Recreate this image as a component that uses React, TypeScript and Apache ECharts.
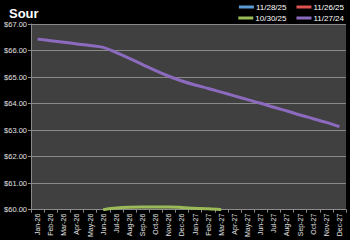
import React, { useEffect, useRef } from "react";
import * as echarts from "echarts";

const months = [
  "Jan-26", "Feb-26", "Mar-26", "Apr-26", "May-26", "Jun-26", "Jul-26", "Aug-26", "Sep-26", "Oct-26", "Nov-26", "Dec-26",
  "Jan-27", "Feb-27", "Mar-27", "Apr-27", "May-27", "Jun-27", "Jul-27", "Aug-27", "Sep-27", "Oct-27", "Nov-27", "Dec-27",
];

const s112825: (number | null)[] = [];
const s112625: (number | null)[] = [];
const s103025: (number | null)[] = [
  null, null, null, null, null, 60.0, 60.06, 60.09, 60.1, 60.1, 60.1, 60.08,
  60.05, 60.03, 60.0, null, null, null, null, null, null, null, null, null,
];
const s112724: number[] = [
  66.43, 66.37, 66.31, 66.25, 66.19, 66.12, 65.92, 65.7, 65.47, 65.24, 65.03, 64.85,
  64.7, 64.57, 64.43, 64.29, 64.15, 64.01, 63.86, 63.72, 63.57, 63.43, 63.29, 63.13,
];

const yTicks = { min: 60, max: 67, interval: 1 };

const FONT = "'Liberation Sans', 'DejaVu Sans', sans-serif";

export default function App() {
  const ref = useRef<HTMLDivElement>(null);
  useEffect(() => {
    if (!ref.current) return;
    const chart = echarts.init(ref.current, undefined, { renderer: "svg" });
    const mk = (name: string, data: (number | null)[], color: string) => ({
      name,
      type: "line",
      data,
      smooth: 0.35,
      symbol: "none",
      clip: true,
      lineStyle: { color, width: 3 },
      itemStyle: { color },
    });
    const legendCommon = {
      right: 6,
      itemWidth: 15,
      itemHeight: 3,
      itemGap: 10,
      icon: "rect",
      textStyle: { color: "#ffffff", fontSize: 8, fontFamily: FONT, padding: [0, 0, 0, -3] },
      padding: 0,
    };
    chart.setOption({
      animation: false,
      backgroundColor: "#000000",
      title: {
        text: "Sour",
        left: 4,
        top: 2,
        textStyle: { color: "#ffffff", fontSize: 13, fontWeight: "bold", fontFamily: FONT },
      },
      legend: [
        { ...legendCommon, top: 3, data: ["11/28/25", "11/26/25"] },
        { ...legendCommon, top: 14, data: ["10/30/25", "11/27/24"] },
      ],
      grid: {
        left: 31,
        right: 4,
        top: 24,
        bottom: 30,
        show: true,
        backgroundColor: "#404040",
        borderWidth: 0,
      },
      xAxis: {
        type: "category",
        data: months,
        boundaryGap: true,
        axisLine: { lineStyle: { color: "#8a8a8a", width: 1 } },
        axisTick: { show: true, length: 3, lineStyle: { color: "#8a8a8a" } },
        axisLabel: {
          rotate: 90,
          interval: 0,
          color: "#e0e0e0",
          fontSize: 7,
          fontFamily: FONT,
          margin: 4,
        },
      },
      yAxis: {
        type: "value",
        min: yTicks.min,
        max: yTicks.max,
        interval: yTicks.interval,
        axisLine: { show: true, lineStyle: { color: "#8a8a8a", width: 1 } },
        axisTick: { show: true, length: 3, lineStyle: { color: "#8a8a8a" } },
        splitLine: { show: true, lineStyle: { color: "#8a8a8a", width: 1 } },
        axisLabel: {
          color: "#e0e0e0",
          fontSize: 7.5,
          fontFamily: FONT,
          margin: 4,
          formatter: (v: number) => "$" + v.toFixed(2),
        },
      },
      series: [
        mk("11/28/25", s112825, "#5b9bd5"),
        mk("11/26/25", s112625, "#d9534f"),
        mk("10/30/25", s103025, "#9bbb59"),
        mk("11/27/24", s112724, "#8c6bbf"),
      ],
    });
    return () => chart.dispose();
  }, []);
  return <div ref={ref} style={{ width: 350, height: 240, position: "fixed", left: 0, top: 0 }} />;
}
